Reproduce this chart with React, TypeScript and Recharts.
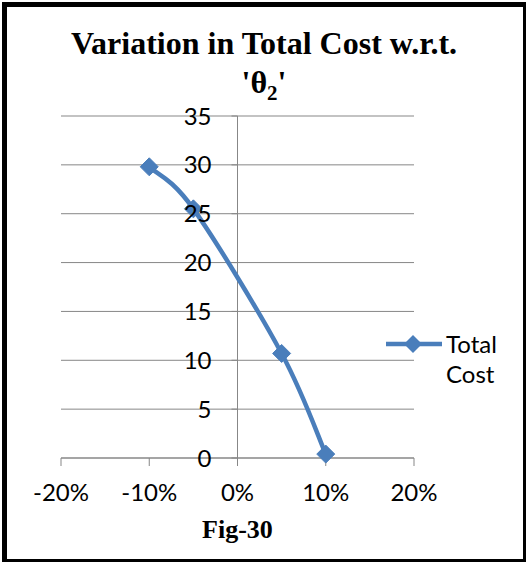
import React from "react";
import {
  CartesianGrid,
  Line,
  LineChart,
  ReferenceLine,
  XAxis,
  YAxis,
} from "recharts";

// change in theta2 (fraction) and total cost
const thetaChange = [-0.1, -0.05, 0.05, 0.1];
const totalCost = [29.8, 25.5, 10.7, 0.4];
const xTicks = [-0.2, -0.1, 0, 0.1, 0.2];
const yTicks = [0, 5, 10, 15, 20, 25, 30, 35];

const BLUE = "#4A7EBB";
const GRID = "#878787";
const SANS = "Lato, 'Open Sans', sans-serif";
const SERIF = "'Liberation Serif', 'Times New Roman', serif";

const PLOT_LEFT = 61;
const PLOT_RIGHT = 414;
const PLOT_TOP = 116;
const PLOT_BOTTOM = 458;
const AXIS_X = (PLOT_LEFT + PLOT_RIGHT) / 2;

const data = thetaChange.map((x, i) => ({ x, y: totalCost[i] }));

// Excel-style smoothed line (Catmull-Rom, control points at 1/6 of neighbour span)
function excelSmooth(context: any) {
  let pts: number[][] = [];
  return {
    areaStart() {},
    areaEnd() {},
    lineStart() {
      pts = [];
    },
    lineEnd() {
      if (!pts.length) return;
      context.moveTo(pts[0][0], pts[0][1]);
      for (let i = 0; i < pts.length - 1; i++) {
        const p0 = pts[Math.max(i - 1, 0)];
        const p1 = pts[i];
        const p2 = pts[i + 1];
        const p3 = pts[Math.min(i + 2, pts.length - 1)];
        context.bezierCurveTo(
          p1[0] + (p2[0] - p0[0]) / 6,
          p1[1] + (p2[1] - p0[1]) / 6,
          p2[0] - (p3[0] - p1[0]) / 6,
          p2[1] - (p3[1] - p1[1]) / 6,
          p2[0],
          p2[1]
        );
      }
    },
    point(x: number, y: number) {
      pts.push([+x, +y]);
    },
  };
}

function Diamond(props: any) {
  const { cx, cy } = props;
  if (cx == null || cy == null) return null;
  const r = 9;
  return (
    <polygon
      points={`${cx},${cy - r} ${cx + r},${cy} ${cx},${cy + r} ${cx - r},${cy}`}
      fill={BLUE}
      stroke={BLUE}
    />
  );
}

// y labels sit beside the vertical axis at x = 0, not at the plot edge
function CentreYTick(props: any) {
  const { y, payload } = props;
  return (
    <g>
      <line x1={AXIS_X - 6} x2={AXIS_X} y1={y} y2={y} stroke={GRID} />
      <text
        x={AXIS_X - 26}
        y={y}
        dy="0.36em"
        textAnchor="end"
        fill="#000"
        fontSize={24}
        fontFamily={SANS}
      >
        {payload.value}
      </text>
    </g>
  );
}

export default function App() {
  return (
    <div style={{ position: "absolute", left: 0, top: 0, width: 527, height: 563, background: "#fff" }}>
      <div
        style={{
          position: "absolute",
          left: 2,
          top: 2,
          width: 524,
          height: 560,
          boxSizing: "border-box",
          borderLeft: "5px solid #000",
          borderTop: "5px solid #000",
          borderRight: "3px solid #000",
          borderBottom: "3px solid #000",
        }}
      />
      <div
        style={{
          position: "absolute",
          left: 2,
          top: 24,
          width: 524,
          textAlign: "center",
          fontFamily: SERIF,
          fontWeight: "bold",
          fontSize: 32,
          lineHeight: "39px",
        }}
      >
        Variation in Total Cost w.r.t.
        <br />
        'θ<sub style={{ fontSize: 21, lineHeight: 0 }}>2</sub>'
      </div>

      <div style={{ position: "absolute", left: 0, top: 0 }}>
        <LineChart
          width={527}
          height={563}
          data={data}
          margin={{ top: PLOT_TOP, right: 527 - PLOT_RIGHT, bottom: 563 - PLOT_BOTTOM - 60, left: PLOT_LEFT - 1 }}
        >
          <CartesianGrid vertical={false} stroke={GRID} />
          <XAxis
            type="number"
            dataKey="x"
            domain={[-0.2, 0.2]}
            ticks={xTicks}
            height={60}
            tickFormatter={(v: number) => `${Math.round(v * 100)}%`}
            axisLine={{ stroke: GRID }}
            tickLine={{ stroke: GRID }}
            tickSize={8}
            tickMargin={18}
            tick={{ fill: "#000", fontSize: 24, fontFamily: SANS }}
          />
          <YAxis
            type="number"
            domain={[0, 35]}
            ticks={yTicks}
            width={1}
            axisLine={false}
            tickLine={false}
            tick={<CentreYTick />}
          />
          <ReferenceLine x={0} stroke={GRID} />
          <Line
            type={excelSmooth as any}
            dataKey="y"
            name="Total Cost"
            stroke={BLUE}
            strokeWidth={4.5}
            dot={<Diamond />}
            activeDot={false}
            isAnimationActive={false}
          />
        </LineChart>
      </div>

      <div
        style={{
          position: "absolute",
          left: 384,
          top: 329,
          display: "flex",
          alignItems: "flex-start",
          fontFamily: SANS,
          fontSize: 24,
          lineHeight: "30px",
        }}
      >
        <svg width={60} height={30}>
          <line x1={2} x2={58} y1={15} y2={15} stroke={BLUE} strokeWidth={4.5} />
          <polygon points="29,6 38,15 29,24 20,15" fill={BLUE} />
        </svg>
        <div style={{ marginLeft: 2 }}>
          Total
          <br />
          Cost
        </div>
      </div>

      <div
        style={{
          position: "absolute",
          left: AXIS_X - 100,
          top: 515,
          width: 200,
          textAlign: "center",
          fontFamily: SERIF,
          fontWeight: "bold",
          fontSize: 26,
        }}
      >
        Fig-30
      </div>
    </div>
  );
}
